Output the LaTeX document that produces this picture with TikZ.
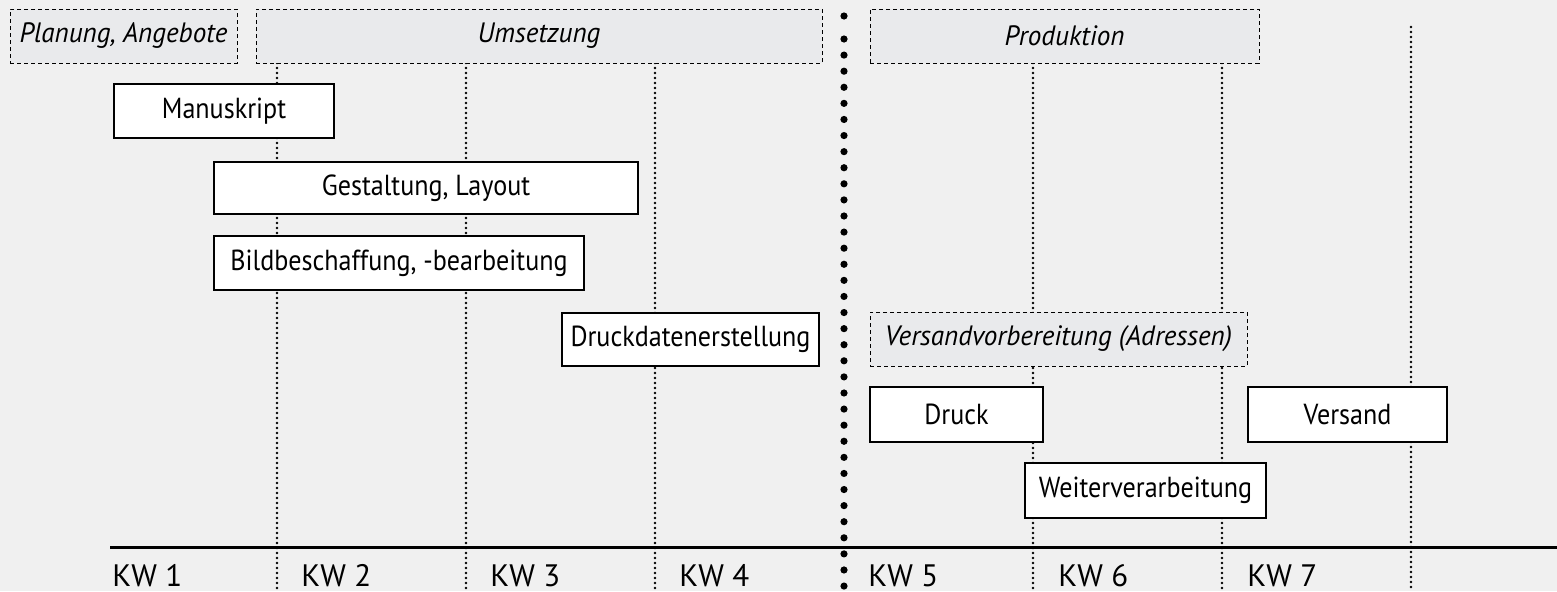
\documentclass[tikz,border=0pt]{standalone}
\usepackage{fontspec}
\usepackage{graphicx}
\setmainfont{PT Sans}
\usetikzlibrary{fit}
\definecolor{bgcol}{HTML}{F0F0F0}
\definecolor{phasecol}{HTML}{E9EAEC}
\newcommand\condtxt[1]{\scalebox{0.9}[1]{#1}}
\newcommand\itxt[1]{\scalebox{0.97}[1]{#1}}
\begin{document}
\begin{tikzpicture}[x=0.5pt,y=-0.5pt,
  taskbox/.style={draw=black, line width=0.75pt, fill=white, inner sep=0pt},
  tasktext/.style={inner sep=0pt, font=\fontsize{14.5}{16}\selectfont},
  phasebox/.style={draw=black, line width=0.5pt, dash pattern=on 2pt off 1.5pt, fill=phasecol, inner sep=0pt},
  phasetext/.style={inner sep=0pt, font=\fontsize{14}{16}\selectfont\itshape},
  grid/.style={line width=1.3pt, dash pattern=on 0pt off 2.5pt, line cap=round},
  kw/.style={anchor=base west, inner sep=0pt, font=\fontsize{15.5}{18}\selectfont}]
\fill[bgcol] (0,0) rectangle (1557,591);
\useasboundingbox (0,0) rectangle (1557,591);
% grid lines
\foreach \gx/\gy in {277/63,466/63,655/63,1033/63,1222/63,1411/27}
  \draw[grid] (\gx,\gy) -- (\gx,591);
% big separator dots
\fill (844,16) circle (1.8pt);
\foreach \i in {0,...,34} \fill (844,39+\i*16.09) circle (1.8pt);
% baseline
\draw[line width=1.5pt] (110,547) -- (1557,547);
% phase boxes
\node[phasebox, fit={(10,9) (237,63)}] (plan) {};
\node[phasetext] (plant) at (plan.center) {\itxt{Planung, Angebote}};
\node[phasebox, fit={(256,9) (822,63)}] (ums) {};
\node[phasetext] (umst) at (ums.center) {\itxt{Umsetzung}};
\node[phasebox, fit={(870,9) (1259,63)}] (prod) {};
\node[phasetext] (prodt) at (prod.center) {\itxt{Produktion}};
\node[phasebox, fit={(870,312) (1247,366)}] (vv) {};
\node[phasetext] (vvt) at (vv.center) {\itxt{Versandvorbereitung (Adressen)}};
% task boxes
\node[taskbox, fit={(114,84) (334,138)}] (man) {};
\node[tasktext] (mant) at (man.center) {\condtxt{Manuskript}};
\node[taskbox, fit={(214,162) (638,214)}] (gest) {};
\node[tasktext] (gestt) at (gest.center) {\condtxt{Gestaltung, Layout}};
\node[taskbox, fit={(214,236) (584,290)}] (bild) {};
\node[tasktext] (bildt) at (bild.center) {\condtxt{Bildbeschaffung, -bearbeitung}};
\node[taskbox, fit={(562,313) (819,366)}] (dd) {};
\node[tasktext] (ddt) at (dd.center) {\condtxt{Druckdatenerstellung}};
\node[taskbox, fit={(870,387) (1043,442)}] (druck) {};
\node[tasktext] (druckt) at (druck.center) {\condtxt{Druck}};
\node[taskbox, fit={(1025,463) (1266,518)}] (wv) {};
\node[tasktext] (wvt) at (wv.center) {\condtxt{Weiterverarbeitung}};
\node[taskbox, fit={(1248,387) (1447,442)}] (vs) {};
\node[tasktext] (vst) at (vs.center) {\condtxt{Versand}};
% week labels
\node[kw] (kw1) at (112,586) {KW 1};
\node[kw] (kw2) at (301,586) {KW 2};
\node[kw] (kw3) at (490,586) {KW 3};
\node[kw] (kw4) at (679,586) {KW 4};
\node[kw] (kw5) at (868,586) {KW 5};
\node[kw] (kw6) at (1058,586) {KW 6};
\node[kw] (kw7) at (1247,586) {KW 7};
\end{tikzpicture}
\end{document}
